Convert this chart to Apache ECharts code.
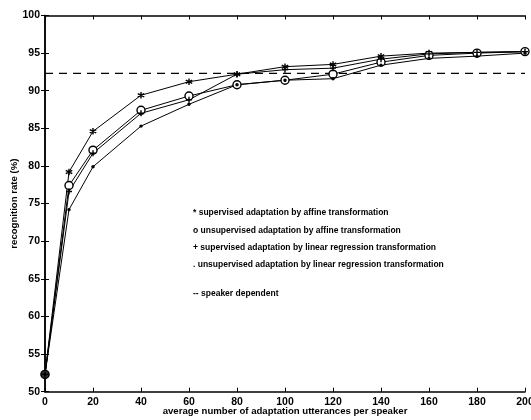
<!DOCTYPE html>
<html>
<head>
<meta charset="utf-8">
<script src="https://cdn.jsdelivr.net/npm/echarts@6/dist/echarts.min.js"></script>
<style>
  html, body { margin: 0; padding: 0; background: #fff; }
  #chart { width: 531px; height: 420px; }
</style>
</head>
<body>
<div id="chart"></div>
<script>
// utterances per speaker
const utterances = [0, 10, 20, 40, 60, 80, 100, 120, 140, 160, 180, 200];

// recognition rate (%) per method
const supAffine = [52.3, 79.2, 84.6, 89.4, 91.2, 92.2, 93.2, 93.5, 94.6, 95.0, 95.1, 95.2];
const unsupAffine = [52.3, 77.4, 82.1, 87.4, 89.3, 90.8, 91.4, 92.2, 93.8, 94.7, 95.0, 95.2];
const supLinReg = [52.3, 76.6, 81.7, 87.0, 88.8, 92.2, 92.8, 93.0, 94.2, 94.9, 95.1, 95.2];
const unsupLinReg = [52.3, 74.2, 79.9, 85.3, 88.2, 90.8, 91.4, 91.6, 93.4, 94.3, 94.6, 95.0];
const speakerDependent = 92.3;

const legendLines = [
  "* supervised adaptation by affine transformation",
  "o unsupervised adaptation by affine transformation",
  "+ supervised adaptation by linear regression transformation",
  ". unsupervised adaptation by linear regression transformation",
  "-- speaker dependent"
];

const font = "Liberation Sans";
const asterisk = "path://M0,-5L0,5M-4.3,-2.5L4.3,2.5M-4.3,2.5L4.3,-2.5M0,-5Z";
const plus = "path://M0,-5L0,5M-5,0L5,0M0,-5Z";

function pairs(vals) {
  return vals.map(function (v, i) {
    return [utterances[i], v];
  });
}

function lineSeries(name, vals, symbol, size, fill) {
  return {
    name: name,
    type: "line",
    data: pairs(vals),
    symbol: symbol,
    symbolSize: size,
    showSymbol: true,
    lineStyle: { color: "#000", width: 1 },
    itemStyle: { color: fill, borderColor: "#000", borderWidth: 1.4 },
    emphasis: { disabled: true },
    z: 3
  };
}

let myChart = echarts.init(document.getElementById("chart"), null, { renderer: "canvas" });

const axisCommon = {
  axisLine: { lineStyle: { color: "#000", width: 1.5 } },
  axisTick: { inside: true, length: 4, lineStyle: { color: "#000" } },
  splitLine: { show: false },
  axisLabel: { color: "#000", fontFamily: font, fontSize: 10.5, fontWeight: "bold" }
};

let option = {
  animation: false,
  backgroundColor: "#fff",
  grid: { left: 45, right: 6, top: 15.5, bottom: 28.3, outerBoundsMode: "none", containLabel: false },
  xAxis: [
    Object.assign({}, axisCommon, {
      type: "value", min: 0, max: 200, interval: 20,
      name: "average number of adaptation utterances per speaker",
      nameLocation: "middle", nameGap: 15, nameMoveOverlap: false,
      nameTextStyle: { color: "#000", fontFamily: font, fontSize: 9.6, fontWeight: "bold" },
      axisLabel: Object.assign({}, axisCommon.axisLabel, { margin: 5 })
    }),
    Object.assign({}, axisCommon, {
      type: "value", min: 0, max: 200, interval: 20, position: "top",
      axisLabel: { show: false }
    })
  ],
  yAxis: [
    Object.assign({}, axisCommon, {
      type: "value", min: 50, max: 100, interval: 5,
      name: "recognition rate (%)",
      nameLocation: "middle", nameGap: 26, nameMoveOverlap: false,
      nameTextStyle: { color: "#000", fontFamily: font, fontSize: 9.6, fontWeight: "bold" },
      axisLabel: Object.assign({}, axisCommon.axisLabel, { margin: 5 })
    }),
    Object.assign({}, axisCommon, {
      type: "value", min: 50, max: 100, interval: 5, position: "right",
      axisLabel: { show: false }
    })
  ],
  series: [
    lineSeries("supervised affine", supAffine, asterisk, 6.5, "#000"),
    lineSeries("unsupervised affine", unsupAffine, "circle", 8, "#fff"),
    lineSeries("supervised linear regression", supLinReg, plus, 6, "#000"),
    lineSeries("unsupervised linear regression", unsupLinReg, "circle", 2, "#000"),
    {
      name: "start",
      type: "scatter",
      data: [[utterances[0], supAffine[0]]],
      symbol: "circle",
      symbolSize: 9,
      itemStyle: { color: "#000" },
      z: 4
    },
    {
      name: "speaker dependent",
      type: "line",
      data: [[0, speakerDependent], [200, speakerDependent]],
      showSymbol: false,
      symbol: "none",
      lineStyle: { color: "#000", width: 1.2, type: [8, 6] },
      z: 2
    }
  ],
  graphic: legendLines.map(function (t, i) {
    return {
      type: "text",
      left: 193,
      top: [208, 226, 243, 260, 289][i],
      style: {
        text: t,
        fill: "#000",
        font: "bold 8.5px " + font
      }
    };
  })
};

myChart.setOption(option);
</script>
</body>
</html>
